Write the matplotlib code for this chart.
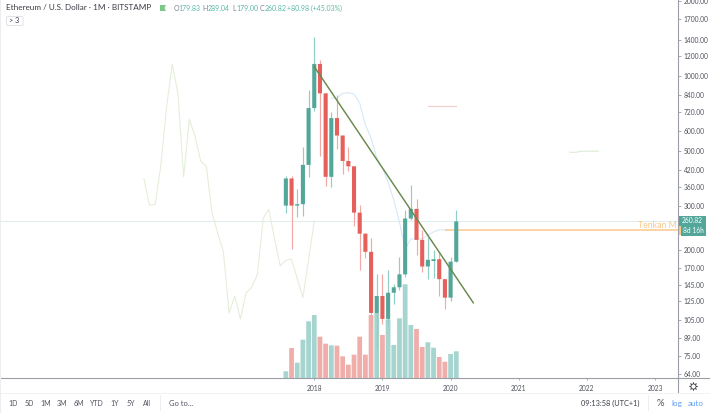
import matplotlib
matplotlib.use("Agg")
import matplotlib.pyplot as plt
from matplotlib.lines import Line2D
from matplotlib.patches import FancyBboxPatch, Rectangle, Polygon
from matplotlib.ticker import FixedLocator, NullLocator, FuncFormatter

W, H = 710, 413
plt.rcParams["font.family"] = ["Lato", "DejaVu Sans"]

# Monthly candles, month index 0 = January 2018
months = list(range(-5, 26))
opens = [302, 388, 302, 306, 440, 744, 1118, 852, 394, 678, 577, 456, 434, 283, 233, 197,
         112, 131, 106, 135, 142, 160, 268, 293, 220, 172, 181, 184, 153, 129, 179.83]
closes = [388, 302, 306, 440, 744, 1118, 852, 394, 678, 577, 456, 434, 283, 233, 197, 112,
          131, 106, 135, 142, 160, 268, 293, 220, 172, 183, 184, 153, 129, 179.83, 260.82]
highs = [397, 398, 352, 520, 878, 1431, 1160, 852, 717, 836, 580, 520, 437, 304, 234, 224,
         160, 161, 166, 147, 187, 289, 365, 321, 241, 226, 200, 195, 153, 187, 289.04]
lows = [282, 202, 272, 275, 394, 726, 477, 362, 360, 509, 404, 417, 251, 166, 186, 99,
        81, 101, 100, 122, 138, 156, 265, 191, 164, 153, 154, 131, 116, 125, 179.00]
volumes = [6.7, 30, 15.3, 38.3, 56.7, 63, 41.3, 34.3, 32.7, 32.3, 21.7, 13.3, 23.3, 41.3, 23.3, 63,
           65, 43, 58.7, 33, 59.7, 93.7, 53, 49, 31, 35.7, 30.3, 21, 16.3, 24, 26.7]

# Lagging span, plotted 25 months behind the close
lag_months = list(range(-30, 1))
lag_values = [388, 303, 306, 439, 753, 1117, 852, 394, 670, 574, 456, 433, 283, 234, 197, 112,
              131, 106, 135, 142, 160, 268, 292, 223, 173, 182, 184, 154, 129, 183, 262]

# Conversion line of the Ichimoku set
tenkan_months = list(range(3, 24))
tenkan_values = [814, 816, 852, 857, 847, 779, 636, 564, 469, 427, 375, 318, 259, 202, 222,
                 222, 222, 230, 237, 242, 241]

# Leading spans ahead of the last candle
red_span_months = [20, 25]
red_span_values = [758, 758]
green_span_months = [45, 46, 47, 50]
green_span_values = [494, 494, 499, 499]

# Hand-drawn trendline
trend_months = [0, 28]
trend_values = [1090, 123]

last_price = 260.82
tenkan_last = 241

price_ticks = [2000, 1700, 1400, 1200, 1000, 840, 720, 600, 500, 420, 360, 300,
               200, 170, 145, 125, 105, 89, 75, 64]
year_ticks = [0, 12, 24, 36, 48, 60]
year_labels = ["2018", "2019", "2020", "2021", "2022", "2023"]
range_buttons = [("1D", 13), ("5D", 29), ("1M", 45.7), ("3M", 62), ("6M", 78.5),
                 ("YTD", 97), ("1Y", 115), ("5Y", 131), ("All", 146.7)]

TEAL = "#53a69a"
RED = "#e5605a"
TEAL_WICK = "#92cec5"
RED_WICK = "#f2a8a5"
TEAL_VOL = "#a6d5cf"
RED_VOL = "#f0aeaa"
TEXT = "#50535e"
AXIS = "#9b9ea6"
ORANGE = "#f9c88a"
BLUE = "#5b9cf6"

fig = plt.figure(figsize=(W / 100, H / 100), dpi=100, facecolor="white")


def fx(x):
    return x / W


def fy(y):
    return 1 - y / H


def label(x, y, s, size=4.8, color=TEXT, ha="left", **kw):
    fig.text(fx(x), fy(y), s, fontsize=size, color=color, ha=ha, va="center", **kw)


def rule(x0, y0, x1, y1, color=AXIS, lw=0.8):
    fig.add_artist(Line2D([fx(x0), fx(x1)], [fy(y0), fy(y1)], color=color, lw=lw,
                          transform=fig.transFigure))


# Price pane with a log scale; the volume pane shares the same rectangle
ax = fig.add_axes([0, fy(378), fx(677.5), 378 / H])
ax.set_yscale("log")
ax.set_xlim(-55.33, 63.95)
ax.set_ylim(61.4, 2018.6)
ax.patch.set_alpha(0)
ax.set_zorder(2)

vol_ax = fig.add_axes(ax.get_position(), sharex=ax)
vol_ax.set_ylim(0, 378)
vol_ax.axis("off")
vol_ax.set_zorder(1)
vol_colors = [TEAL_VOL if c >= o else RED_VOL for o, c in zip(opens, closes)]
for bar in vol_ax.bar(months, volumes, width=0.84, color=vol_colors, linewidth=0):
    bar.set_snap(False)

# Reference lines behind the candles
ax.axhline(last_price, color="#dfeeec", lw=0.8, zorder=1)
ax.plot([23, 63.95], [tenkan_last, tenkan_last], color=ORANGE, lw=1.1, zorder=1.5,
        solid_capstyle="butt")

ax.plot(lag_months, lag_values, color="#e4edd8", lw=0.75, zorder=1.2)
ax.plot(tenkan_months, tenkan_values, color="#d3e6f8", lw=0.75, zorder=1.2)
ax.plot(red_span_months, red_span_values, color="#f3d0ce", lw=0.9, zorder=1.2)
ax.plot(green_span_months, green_span_values, color="#dfeed9", lw=0.9, zorder=1.2)

# Candles
for m, o, c, hi, lo in zip(months, opens, closes, highs, lows):
    up = c >= o
    ax.vlines(m, lo, hi, color=TEAL_WICK if up else RED_WICK, lw=0.85, zorder=2)
    bottom, top = min(o, c), max(o, c)
    for body in ax.bar(m, top - bottom, bottom=bottom, width=0.72, color=TEAL if up else RED,
                       edgecolor="none", zorder=3):
        body.set_snap(False)

ax.plot(trend_months, trend_values, color="#688a4c", lw=1.05, zorder=4)

# Axes furniture
for side in ("top", "left", "right", "bottom"):
    ax.spines[side].set_visible(False)
ax.yaxis.tick_right()
ax.yaxis.set_major_locator(FixedLocator(price_ticks))
ax.yaxis.set_minor_locator(NullLocator())
ax.yaxis.set_major_formatter(FuncFormatter(lambda v, _: f"{v:.2f}"))
ax.tick_params(axis="y", which="major", length=2.2, width=0.6, color=AXIS, pad=2.2,
               labelsize=4.8, labelcolor=TEXT)
ax.set_xticks(year_ticks, year_labels)
ax.tick_params(axis="x", length=1.5, width=0.6, color=AXIS, pad=3.2, labelsize=4.8,
               labelcolor=TEXT)

rule(0, 378, W, 378)
rule(677.5, 0, 677.5, 393)
rule(0, 393, W, 393, color="#f2f2f3", lw=0.7)
rule(0.4, 0, 0.4, H, color="#eeeef0", lw=0.8)
rule(160, 395, 160, 410, color="#eeeef0", lw=0.7)
rule(648, 395, 648, 410, color="#eeeef0", lw=0.7)

# Last-price and countdown tags
fig.add_artist(Rectangle((fx(678), fy(225.5)), 28 / W, 9.5 / H, color=TEAL, lw=0))
fig.add_artist(Rectangle((fx(678), fy(235)), 2.5 / W, 9 / H, color=ORANGE, lw=0))
fig.add_artist(Rectangle((fx(680.5), fy(235.7)), 25.5 / W, 9.7 / H, color=TEAL, lw=0))
label(692, 220.8, f"{last_price:.2f}", color="white", ha="center")
label(693, 230.8, "8d 16h", color="white", ha="center")
label(677, 225, "Tenkan M", size=6.3, color=ORANGE, ha="right")

# Header
label(6, 7.8, "Ethereum / U.S. Dollar · 1M · BITSTAMP", size=5.9, color="#3a3d47")
fig.add_artist(Polygon([(fx(160), fy(5)), (fx(166), fy(5)), (fx(164.5), fy(8)), (fx(166), fy(11)),
                        (fx(160), fy(11))], closed=True, color="#80c785", lw=0))
VAL = "#59b8a6"
for x_l, letter, x_v, value in [(174, "O", 178.5, "179.83"), (202.7, "H", 207.5, "289.04"),
                                (232, "L", 236, "179.00"), (260, "C", 264.5, "260.82")]:
    label(x_l, 8.6, letter, size=5, color="#7d808a")
    label(x_v, 8.6, value, size=5, color=VAL)
label(287.3, 8.6, "+80.98 (+45.03%)", size=5, color=VAL)
fig.add_artist(FancyBboxPatch((fx(6.5), fy(25.5)), 16.5 / W, 9 / H,
                              boxstyle="round,pad=0,rounding_size=0.003",
                              fc="white", ec="#e2e3e6", lw=0.7,
                              transform=fig.transFigure))
label(14.5, 20.8, "> 3", size=5.2, color="#3a3d47", ha="center")

# Bottom toolbar
for name, x in range_buttons:
    label(x, 403.5, name, size=5, ha="center")
label(168.7, 403.5, "Go to...", size=5.4)
label(610, 403.5, "09:13:58 (UTC+1)", size=5.3, color="#3a3d47", ha="center")
label(660, 403.5, "%", size=6.8, ha="center")
label(676.7, 403.5, "log", size=5.8, color=BLUE, ha="center")
label(696, 403.5, "auto", size=5.8, color=BLUE, ha="center")

# Settings gear
fig.add_artist(Line2D([fx(693)], [fy(385.8)], marker=(8, 1, 0), ms=6.4, mfc="#3a3d47",
                      mec="#3a3d47", mew=0.2, transform=fig.transFigure))
fig.add_artist(Line2D([fx(693)], [fy(385.8)], marker="o", ms=3.6, mfc="white", mec="#3a3d47",
                      mew=0.45, transform=fig.transFigure))

fig.savefig("out.png", dpi=100)
